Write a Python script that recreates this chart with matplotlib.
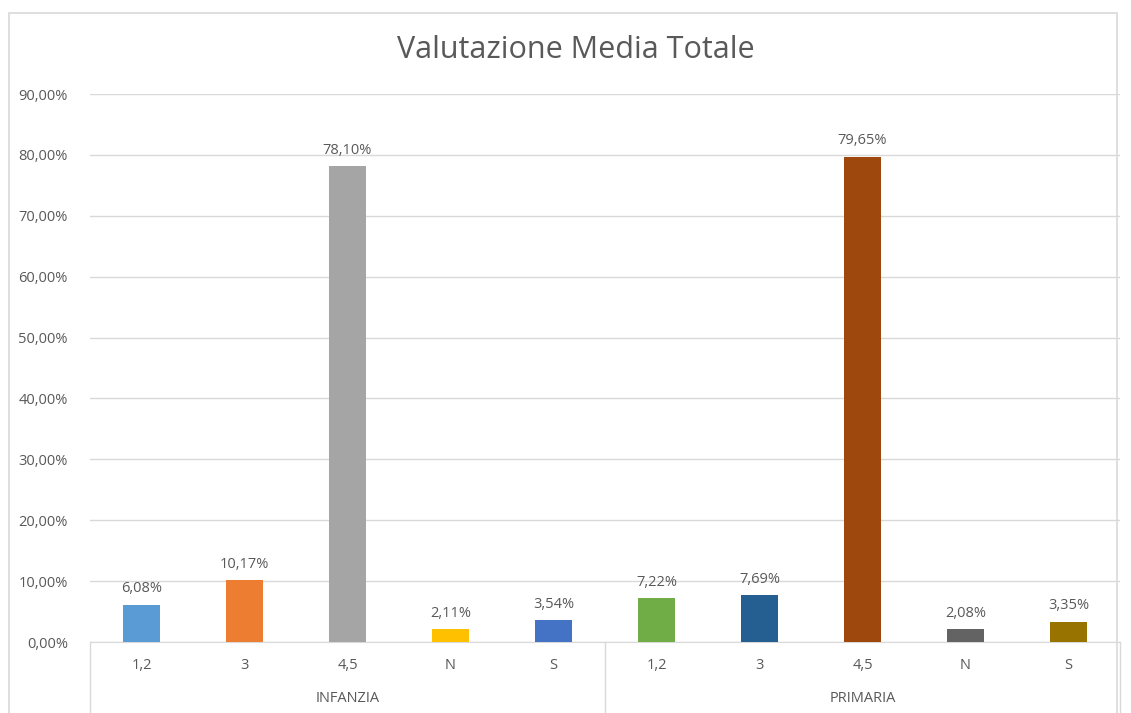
import matplotlib.pyplot as plt
from matplotlib.patches import Rectangle

plt.rcParams['font.family'] = ['Open Sans', 'DejaVu Sans']

groups = ["INFANZIA", "PRIMARIA"]
categories = ["1,2", "3", "4,5", "N", "S"]
infanzia = [6.08, 10.17, 78.10, 2.11, 3.54]
primaria = [7.22, 7.69, 79.65, 2.08, 3.35]
colors = ["#5B9BD5", "#ED7D31", "#A5A5A5", "#FFC000", "#4472C4",
          "#70AD47", "#255E91", "#9E480E", "#636363", "#997300"]

txt = "#595959"
grid = "#d9d9d9"
fs = 10.5

fig = plt.figure(figsize=(11.31, 7.13), dpi=100)
W, H = 1131, 713
ax = fig.add_axes([90 / W, (H - 642) / H, (1120 - 90) / W, (642 - 94) / H])

values = infanzia + primaria
labels = categories * 2
x = list(range(len(values)))
ax.bar(x, values, width=0.36, color=colors, zorder=3)
for xi, v in zip(x, values):
    ax.text(xi, v + 1.4, f"{v:.2f}%".replace(".", ","), ha="center", va="bottom",
            fontsize=fs, color=txt)

ax.set_xlim(-0.5, len(values) - 0.5)
ax.set_ylim(0, 90)
ticks = list(range(0, 91, 10))
ax.set_yticks(ticks)
ax.set_yticklabels([f"{t},00%" for t in ticks], fontsize=fs, color=txt)
ax.tick_params(axis="y", length=0, pad=16)
ax.set_xticks([])
ax.yaxis.grid(True, color=grid, linewidth=1, zorder=0)
for s in ["top", "right", "left"]:
    ax.spines[s].set_visible(False)
ax.spines["bottom"].set_color(grid)

# category labels and group separators below axis
for xi, lab in zip(x, labels):
    ax.text(xi, -3.8, lab, ha="center", va="center", fontsize=fs, color=txt, clip_on=False)
n = len(categories)
for gi, g in enumerate(groups):
    ax.text(gi * n + (n - 1) / 2, -9.2, g, ha="center", va="center", fontsize=fs,
            color=txt, clip_on=False)
for sep in [-0.5, n - 0.5, 2 * n - 0.5]:
    ax.plot([sep, sep], [0, -12], color=grid, linewidth=1, clip_on=False)

fig.text(0.5 + 10 / W, (H - 50) / H, "Valutazione Media Totale", ha="center", va="center",
         fontsize=22, color=txt)
fig.patches.append(Rectangle((9 / W, -0.05), (1117 - 9) / W, (H - 13) / H + 0.05,
                             transform=fig.transFigure, fill=False, edgecolor=grid,
                             linewidth=1.2))

fig.savefig("out.png", dpi=100)
